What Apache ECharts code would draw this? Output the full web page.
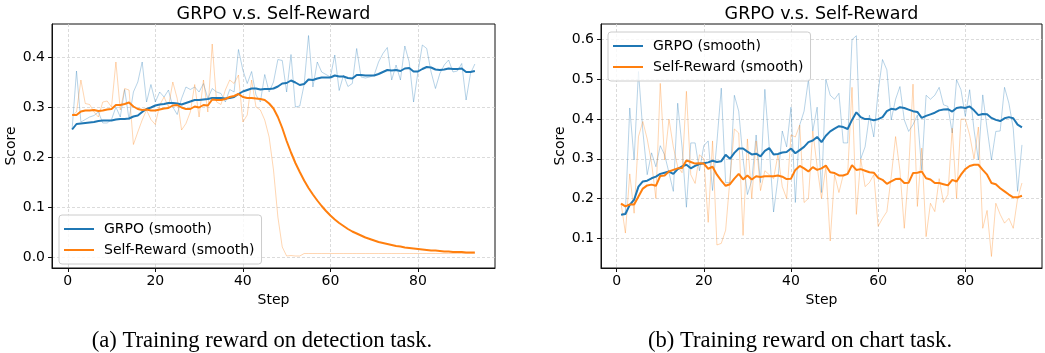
<!DOCTYPE html>
<html><head><meta charset="utf-8">
<script src="https://cdn.jsdelivr.net/npm/echarts@6/dist/echarts.min.js"></script>
<style>html,body{margin:0;padding:0;background:#fff}#c{width:1045px;height:353px}</style>
</head><body><div id="c"></div><script>
// ---- data (step = index + 1) ----
const xTicks = [0, 20, 40, 60, 80];
const yTicksA = [0, 0.1, 0.2, 0.3, 0.4];
const yTicksB = [0.1, 0.2, 0.3, 0.4, 0.5, 0.6];
const titleText = 'GRPO v.s. Self-Reward';
const captionA = '(a) Training reward on detection task.';
const captionB = '(b) Training reward on chart task.';

// (a) detection task
const grpoRawA = [0.256,0.372,0.270,0.275,0.280,0.283,0.290,0.268,0.268,0.275,
 0.300,0.280,0.335,0.275,0.330,0.350,0.390,0.310,0.345,0.310,
 0.330,0.320,0.334,0.300,0.285,0.317,0.340,0.335,0.340,0.330,
 0.347,0.317,0.337,0.330,0.327,0.310,0.335,0.330,0.415,0.374,
 0.347,0.371,0.324,0.310,0.365,0.330,0.350,0.395,0.393,0.330,
 0.405,0.300,0.302,0.345,0.443,0.340,0.390,0.370,0.365,0.360,
 0.404,0.333,0.364,0.341,0.347,0.417,0.360,0.358,0.360,0.364,
 0.390,0.407,0.419,0.354,0.384,0.354,0.422,0.390,0.310,0.370,
 0.424,0.417,0.370,0.337,0.367,0.384,0.394,0.370,0.372,0.387,
 0.314,0.367,0.386];
const grpoSmoothA = [0.255,0.266,0.267,0.268,0.269,0.270,0.272,0.273,0.273,0.273,
 0.275,0.276,0.276,0.277,0.281,0.283,0.290,0.296,0.299,0.303,
 0.305,0.306,0.308,0.308,0.307,0.305,0.308,0.311,0.314,0.314,
 0.315,0.316,0.318,0.318,0.318,0.317,0.318,0.320,0.326,0.331,
 0.334,0.337,0.337,0.335,0.336,0.336,0.337,0.341,0.347,0.348,
 0.353,0.349,0.344,0.346,0.355,0.354,0.357,0.359,0.359,0.359,
 0.363,0.361,0.361,0.358,0.357,0.364,0.364,0.363,0.363,0.363,
 0.366,0.370,0.374,0.373,0.374,0.372,0.377,0.378,0.371,0.371,
 0.376,0.380,0.379,0.375,0.374,0.375,0.377,0.376,0.376,0.377,
 0.370,0.370,0.372];
const selfRawA = [0.284,0.290,0.354,0.307,0.305,0.290,0.280,0.310,0.312,0.300,
 0.390,0.294,0.337,0.334,0.225,0.250,0.274,0.294,0.275,0.265,
 0.304,0.320,0.300,0.350,0.317,0.254,0.267,0.290,0.345,0.280,
 0.354,0.290,0.426,0.310,0.305,0.334,0.354,0.347,0.364,0.270,
 0.284,0.354,0.300,0.294,0.274,0.240,0.174,0.080,0.020,0.002,
 0.003,0.002,0.002,0.007,0.007,0.007,0.007,0.007,0.007,0.007,
 0.007,0.007,0.007,0.007,0.007,0.007,0.007,0.007,0.007,0.007,
 0.007,0.007,0.007,0.007,0.007,0.007,0.007,0.007,0.007,0.007,
 0.007,0.007,0.007,0.007,0.007,0.007,0.007,0.007,0.007,0.007,
 0.007,0.007,0.007];
const selfSmoothA = [0.284,0.284,0.291,0.293,0.293,0.294,0.292,0.293,0.295,0.296,
 0.304,0.304,0.306,0.309,0.301,0.296,0.294,0.295,0.293,0.293,
 0.295,0.297,0.298,0.303,0.304,0.299,0.296,0.296,0.301,0.299,
 0.304,0.303,0.315,0.314,0.314,0.316,0.320,0.322,0.326,0.320,
 0.318,0.318,0.317,0.316,0.314,0.307,0.297,0.280,0.258,0.232,
 0.209,0.188,0.170,0.153,0.138,0.125,0.113,0.102,0.092,0.083,
 0.075,0.068,0.062,0.056,0.051,0.047,0.043,0.039,0.036,0.033,
 0.030,0.028,0.026,0.024,0.022,0.021,0.019,0.018,0.017,0.016,
 0.015,0.014,0.013,0.013,0.012,0.011,0.011,0.010,0.010,0.010,
 0.009,0.009,0.009];

// (b) chart task
const grpoRawB = [0.159,0.165,0.428,0.297,0.520,0.370,0.260,0.315,0.280,0.333,
 0.310,0.265,0.218,0.440,0.330,0.178,0.340,0.340,0.270,0.333,
 0.345,0.220,0.342,0.478,0.240,0.240,0.460,0.420,0.300,0.210,
 0.245,0.360,0.240,0.475,0.330,0.166,0.250,0.370,0.330,0.430,
 0.190,0.385,0.420,0.500,0.370,0.430,0.215,0.500,0.460,0.450,
 0.465,0.340,0.340,0.600,0.610,0.300,0.330,0.410,0.355,0.470,
 0.550,0.524,0.398,0.450,0.482,0.398,0.369,0.386,0.410,0.272,
 0.460,0.450,0.460,0.480,0.436,0.432,0.365,0.499,0.474,0.407,
 0.474,0.373,0.297,0.461,0.377,0.297,0.369,0.370,0.480,0.440,
 0.377,0.218,0.335];
const grpoSmoothB = [0.159,0.161,0.184,0.197,0.230,0.243,0.245,0.251,0.255,0.262,
 0.265,0.268,0.262,0.274,0.281,0.285,0.276,0.282,0.287,0.289,
 0.291,0.295,0.292,0.294,0.310,0.300,0.315,0.326,0.326,0.318,
 0.311,0.313,0.306,0.320,0.327,0.311,0.312,0.316,0.317,0.326,
 0.314,0.322,0.330,0.342,0.346,0.355,0.342,0.358,0.369,0.376,
 0.382,0.380,0.375,0.398,0.417,0.405,0.400,0.400,0.397,0.400,
 0.405,0.420,0.426,0.424,0.430,0.428,0.424,0.420,0.418,0.403,
 0.408,0.412,0.416,0.422,0.424,0.425,0.419,0.428,0.430,0.428,
 0.432,0.422,0.410,0.413,0.412,0.403,0.398,0.395,0.402,0.405,
 0.402,0.386,0.379];
const selfRawB = [0.188,0.113,0.262,0.163,0.356,0.394,0.350,0.290,0.200,0.490,
 0.297,0.400,0.330,0.280,0.265,0.470,0.260,0.238,0.310,0.300,
 0.140,0.345,0.083,0.087,0.120,0.250,0.375,0.365,0.107,0.350,
 0.200,0.345,0.220,0.270,0.260,0.250,0.310,0.230,0.200,0.360,
 0.355,0.385,0.190,0.200,0.370,0.280,0.200,0.280,0.093,0.260,
 0.215,0.260,0.260,0.480,0.160,0.300,0.230,0.240,0.260,0.130,
 0.150,0.167,0.255,0.356,0.270,0.125,0.270,0.488,0.180,0.327,
 0.104,0.188,0.167,0.250,0.190,0.210,0.377,0.200,0.400,0.400,
 0.360,0.300,0.380,0.125,0.170,0.054,0.188,0.160,0.138,0.150,
 0.125,0.200,0.239];
const selfSmoothB = [0.187,0.180,0.185,0.185,0.205,0.225,0.233,0.235,0.232,0.257,
 0.258,0.268,0.272,0.276,0.277,0.296,0.292,0.288,0.289,0.288,
 0.275,0.280,0.260,0.245,0.232,0.236,0.250,0.262,0.248,0.258,
 0.248,0.256,0.254,0.256,0.256,0.256,0.258,0.255,0.249,0.250,
 0.272,0.282,0.276,0.268,0.279,0.272,0.276,0.283,0.266,0.264,
 0.258,0.258,0.262,0.284,0.272,0.274,0.270,0.266,0.265,0.252,
 0.247,0.237,0.243,0.249,0.250,0.239,0.240,0.264,0.265,0.268,
 0.251,0.248,0.239,0.239,0.236,0.233,0.247,0.243,0.260,0.274,
 0.282,0.285,0.285,0.272,0.260,0.239,0.236,0.226,0.218,0.210,
 0.203,0.203,0.207];

// ---- build ----
const BLUE = '#1f77b4', ORANGE = '#ff7f0e';
const FONT = 'DejaVu Sans';
const pairs = arr => arr.map((v, i) => [i + 1, v]);

function xAxisFor(gi) {
  return {
    type: 'value', gridIndex: gi, min: -3.6, max: 97.6,
    name: 'Step', nameLocation: 'middle', nameGap: 21,
    nameTextStyle: { fontFamily: FONT, fontSize: 14, color: '#000' },
    axisLine: { show: true, onZero: false, lineStyle: { color: '#111', width: 1 } },
    axisTick: { show: true, inside: false, length: 4, customValues: xTicks, lineStyle: { color: '#111' } },
    axisLabel: { customValues: xTicks, fontFamily: FONT, fontSize: 14, color: '#000', margin: 6 },
    splitLine: { show: true, lineStyle: { color: '#d2d2d2', width: 0.8, type: [3, 2] } }
  };
}
function yAxisFor(gi, min, max, ticks) {
  return {
    type: 'value', gridIndex: gi, min: min, max: max,
    name: 'Score', nameLocation: 'middle', nameGap: 28, nameRotate: 90,
    nameTextStyle: { fontFamily: FONT, fontSize: 14, color: '#000' },
    axisLine: { show: true, onZero: false, lineStyle: { color: '#111', width: 1 } },
    axisTick: { show: true, inside: false, length: 4, customValues: ticks, lineStyle: { color: '#111' } },
    axisLabel: { customValues: ticks, fontFamily: FONT, fontSize: 14, color: '#000', margin: 7,
      formatter: v => Number(v).toFixed(1) },
    splitLine: { show: true, lineStyle: { color: '#d2d2d2', width: 0.8, type: [3, 2] } }
  };
}
function line(name, gi, data, color, width, opacity, z) {
  return {
    type: 'line', name: name, xAxisIndex: gi, yAxisIndex: gi, data: pairs(data),
    symbol: 'none', showSymbol: false, smooth: false, z: z,
    lineStyle: { color: color, width: width, opacity: opacity },
    itemStyle: { color: color }, emphasis: { disabled: true }
  };
}
function legendFor(left, top) {
  return {
    orient: 'vertical', left: left, top: top, padding: [6, 7, 6, 5], itemGap: 5,
    itemWidth: 30, itemHeight: 2, icon: 'rect', selectedMode: false,
    backgroundColor: 'rgba(255,255,255,0.8)', borderColor: '#cccccc', borderWidth: 1, borderRadius: 3,
    data: ['GRPO (smooth)', 'Self-Reward (smooth)'],
    textStyle: { fontFamily: FONT, fontSize: 14, color: '#000', padding: [0, 0, 0, 5], lineHeight: 16 }
  };
}

const option = {
  animation: false,
  backgroundColor: '#fff',
  grid: [
    { left: 52, top: 24, width: 443, height: 244, show: true, borderColor: '#111', borderWidth: 1, backgroundColor: 'transparent' },
    { left: 601, top: 24, width: 441, height: 244, show: true, borderColor: '#111', borderWidth: 1, backgroundColor: 'transparent' }
  ],
  xAxis: [xAxisFor(0), xAxisFor(1)],
  yAxis: [yAxisFor(0, -0.022, 0.466, yTicksA), yAxisFor(1, 0.025, 0.6395, yTicksB)],
  legend: [legendFor(59, 215), legendFor(608, 32)],
  series: [
    line('GRPO (raw)', 0, grpoRawA, BLUE, 1, 0.32, 2),
    line('Self-Reward (raw)', 0, selfRawA, ORANGE, 1, 0.32, 2),
    line('GRPO (smooth)', 0, grpoSmoothA, BLUE, 2, 1, 3),
    line('Self-Reward (smooth)', 0, selfSmoothA, ORANGE, 2, 1, 3),
    line('GRPO (raw)', 1, grpoRawB, BLUE, 1, 0.32, 2),
    line('Self-Reward (raw)', 1, selfRawB, ORANGE, 1, 0.32, 2),
    line('GRPO (smooth)', 1, grpoSmoothB, BLUE, 2, 1, 3),
    line('Self-Reward (smooth)', 1, selfSmoothB, ORANGE, 2, 1, 3)
  ],
  graphic: [
    { type: 'text', x: 273.5, y: 14, silent: true,
      style: { text: titleText, font: '17.5px "DejaVu Sans"', fill: '#000', align: 'center', verticalAlign: 'middle' } },
    { type: 'text', x: 821.5, y: 14, silent: true,
      style: { text: titleText, font: '17.5px "DejaVu Sans"', fill: '#000', align: 'center', verticalAlign: 'middle' } },
    { type: 'text', x: 262, y: 341, silent: true,
      style: { text: captionA, font: '22.6px "Liberation Serif"', fill: '#000', align: 'center', verticalAlign: 'middle' } },
    { type: 'text', x: 800, y: 341, silent: true,
      style: { text: captionB, font: '22.6px "Liberation Serif"', fill: '#000', align: 'center', verticalAlign: 'middle' } }
  ]
};
const chart = echarts.init(document.getElementById('c'), null, { renderer: 'canvas' });
chart.setOption(option);
</script></body></html>
